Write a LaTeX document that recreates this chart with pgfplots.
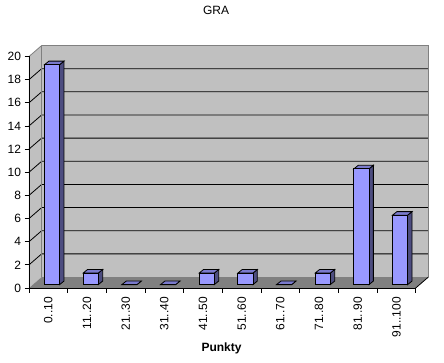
\documentclass[border=0pt]{standalone}
\usepackage{fontspec}
\setmainfont{Liberation Sans}
\usepackage{pgfplots}
\usepackage{pgfplotstable}
\pgfplotsset{compat=1.18}
\definecolor{wall}{HTML}{C0C0C0}
\definecolor{floorc}{HTML}{808080}
\definecolor{edgegray}{HTML}{808080}
\definecolor{barfront}{HTML}{9999FF}
\definecolor{bartop}{HTML}{7A7ACC}
\definecolor{barside}{HTML}{4D4D80}

% unit shapes of the three visible faces of a column (a: x offset in category, b: depth lift, h: factor of value)
\pgfplotstableread{
a b h
0.40 0.29 0
0.79 0.29 0
0.79 0.29 1
0.40 0.29 1
}\frontface
\pgfplotstableread{
a b h
0.40 0.29 1
0.79 0.29 1
0.905 0.60 1
0.515 0.60 1
}\topface
\pgfplotstableread{
a b h
0.79 0.29 0
0.905 0.60 0
0.905 0.60 1
0.79 0.29 1
}\sideface

\newcommand\column[2]{%
  \addplot[draw=black, fill=barside, line width=0.8pt] table[x expr={#1+\thisrow{a}}, y expr={#2*\thisrow{h}+\thisrow{b}}] {\sideface} -- cycle;
  \addplot[draw=black, fill=bartop, line width=0.8pt] table[x expr={#1+\thisrow{a}}, y expr={#2*\thisrow{h}+\thisrow{b}}] {\topface} -- cycle;
  \addplot[draw=black, fill=barfront, line width=0.8pt] table[x expr={#1+\thisrow{a}}, y expr={#2*\thisrow{h}+\thisrow{b}}] {\frontface} -- cycle;
}

\newcommand\lbl{\fontsize{12}{14}\selectfont}

\begin{document}
\begin{tikzpicture}
\begin{axis}[
  at={(0pt,0pt)}, anchor=south west,
  x=38.67pt, y=11.575pt,
  xmin=0, xmax=10, ymin=0, ymax=20,
  enlargelimits=false, clip=false,
  axis on top,
  axis lines*=left,
  axis line style={black, line width=0.8pt},
  tick align=outside,
  major tick length=4.5pt,
  tick style={black, line width=0.8pt},
  xtick={0,...,10},
  x tick label as interval,
  xticklabels={0..10,11..20,21..30,31..40,41..50,51..60,61..70,71..80,81..90,91..100},
  xticklabel style={rotate=90, anchor=east, font=\lbl, xshift=-1pt},
  ytick={0,2,...,20},
  yticklabel style={font=\lbl, anchor=east},
  /pgf/number format/assume math mode=true,
  title={GRA},
  title style={at={(axis description cs:0.4836,1.175)}, anchor=center, font=\lbl},
  xlabel={Punkty},
  xlabel style={at={(axis description cs:0.498,-0.259)}, anchor=center, font=\lbl\bfseries},
]
% walls and floor
\fill[wall] (0,0) -- (0.3284,0.95) -- (0.3284,20.95) -- (0,20) -- cycle;
\fill[wall] (0.3284,0.95) rectangle (10.3284,20.95);
\fill[floorc] (0,0) -- (10,0) -- (10.3284,0.95) -- (0.3284,0.95) -- cycle;
% grid lines
\draw[black, line width=0.8pt] (0,2) -- (0.3284,2.95) -- (10.3284,2.95);
\draw[black, line width=0.8pt] (0,4) -- (0.3284,4.95) -- (10.3284,4.95);
\draw[black, line width=0.8pt] (0,6) -- (0.3284,6.95) -- (10.3284,6.95);
\draw[black, line width=0.8pt] (0,8) -- (0.3284,8.95) -- (10.3284,8.95);
\draw[black, line width=0.8pt] (0,10) -- (0.3284,10.95) -- (10.3284,10.95);
\draw[black, line width=0.8pt] (0,12) -- (0.3284,12.95) -- (10.3284,12.95);
\draw[black, line width=0.8pt] (0,14) -- (0.3284,14.95) -- (10.3284,14.95);
\draw[black, line width=0.8pt] (0,16) -- (0.3284,16.95) -- (10.3284,16.95);
\draw[black, line width=0.8pt] (0,18) -- (0.3284,18.95) -- (10.3284,18.95);
% wall edges
\draw[edgegray, line width=0.8pt] (0,20) -- (0.3284,20.95) -- (10.3284,20.95) -- (10.3284,0.95);
\draw[edgegray, line width=0.8pt] (0.3284,0.95) -- (0.3284,20.95);
\draw[black, line width=0.8pt] (10,0) -- (10.3284,0.95);
% columns: \column{category index}{value}
\column{0}{19}
\column{1}{1}
\column{2}{0}
\column{3}{0}
\column{4}{1}
\column{5}{1}
\column{6}{0}
\column{7}{1}
\column{8}{10}
\column{9}{6}
\end{axis}
\pgfresetboundingbox
\path[use as bounding box] (-29pt,-74pt) rectangle (415pt,288pt);
\end{tikzpicture}
\end{document}
